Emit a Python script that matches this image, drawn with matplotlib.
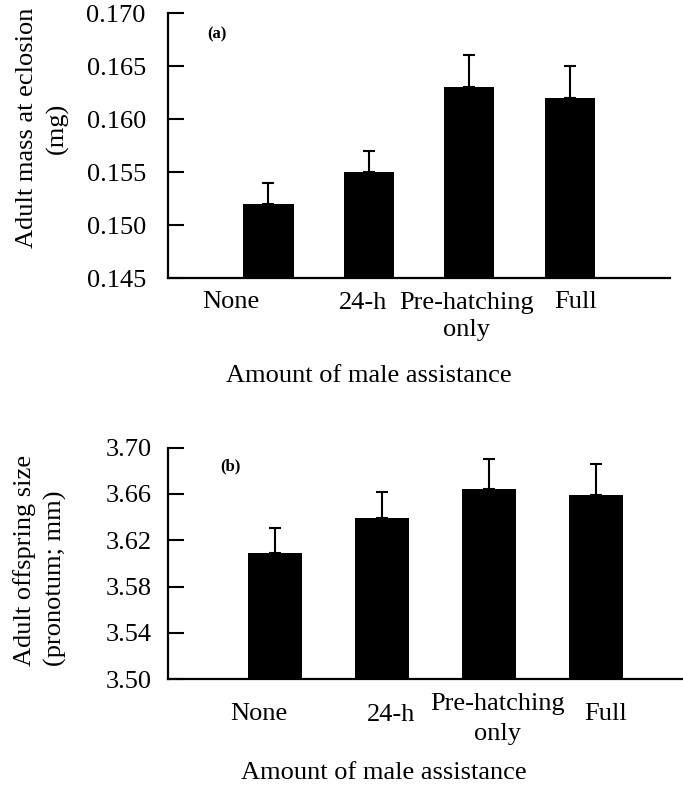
import numpy as np
import matplotlib.pyplot as plt

categories = ["None", "24-h", "Pre-hatching\nonly", "Full"]

# panel (a): adult mass at eclosion (mg)
mass = [0.152, 0.155, 0.163, 0.162]
mass_err = [0.002, 0.002, 0.003, 0.003]

# panel (b): adult offspring size (pronotum; mm)
size = [3.609, 3.639, 3.664, 3.659]
size_err = [0.022, 0.023, 0.026, 0.027]

plt.rcParams['font.family'] = ['Liberation Serif', 'DejaVu Serif']
plt.rcParams['font.size'] = 19

fig = plt.figure(figsize=(6.83, 7.88), dpi=100)
ax1 = fig.add_axes([0.246, 0.6472, 0.735, 0.3363])
ax2 = fig.add_axes([0.246, 0.1383, 0.760, 0.2935])

x = np.arange(len(categories))


def style(ax, pad):
    for s in ["top", "right"]:
        ax.spines[s].set_visible(False)
    ax.spines["left"].set_linewidth(1.6)
    ax.spines["bottom"].set_linewidth(1.6)
    ax.tick_params(axis="y", direction="in", length=11.5, width=1.5, pad=pad,
                   labelsize=19)
    ax.set_xticks([])


# top panel
ax1.bar(x, mass, width=0.5, color="black", zorder=2)
ax1.errorbar(x, mass, yerr=[np.zeros(4), mass_err], fmt="none", ecolor="black",
             elinewidth=1.5, capsize=4.5, capthick=1.5, zorder=1)
ax1.set_xlim(-1.0, 4.0)
ax1.set_ylim(0.145, 0.170)
ax1.set_yticks(np.arange(0.145, 0.1701, 0.005))
ax1.set_yticklabels(["%.3f" % v for v in np.arange(0.145, 0.1701, 0.005)])
style(ax1, 16)
ax1.text(0.098, 0.921, "(a)", transform=ax1.transAxes, fontsize=12,
         fontweight="bold", ha="center", va="center")

shift_a = [-0.37, -0.06, -0.03, 0.06]
voff_a = [-9, -10, -10, -9]
for i, lbl in enumerate(categories):
    ax1.annotate(lbl, xy=(x[i] + shift_a[i], 0), xycoords=("data", "axes fraction"),
                 xytext=(0, voff_a[i]), textcoords="offset points", ha="center", va="top",
                 linespacing=1.3, fontsize=19)
ax1.annotate("Amount of male assistance", xy=(1.0, 0), xycoords=("data", "axes fraction"),
             xytext=(0, -62.5), textcoords="offset points", ha="center", va="top",
             fontsize=19)

# bottom panel
ax2.bar(x, size, width=0.5, color="black", zorder=2)
ax2.errorbar(x, size, yerr=[np.zeros(4), size_err], fmt="none", ecolor="black",
             elinewidth=1.5, capsize=4.5, capthick=1.5, zorder=1)
ax2.set_xlim(-1.0, 3.85)
ax2.set_ylim(3.50, 3.70)
ticks_b = [3.50, 3.54, 3.58, 3.62, 3.66, 3.70]
ax2.set_yticks(ticks_b)
ax2.set_yticklabels(["%.2f" % v for v in ticks_b])
style(ax2, 12)
ax2.text(0.12, 0.921, "(b)", transform=ax2.transAxes, fontsize=12,
         fontweight="bold", ha="center", va="center")

shift_b = [-0.15, 0.08, 0.08, 0.09]
voff_b = [-17, -18, -10, -17]
for i, lbl in enumerate(categories):
    ax2.annotate(lbl, xy=(x[i] + shift_b[i], 0), xycoords=("data", "axes fraction"),
                 xytext=(0, voff_b[i]), textcoords="offset points", ha="center", va="top",
                 linespacing=1.45, fontsize=19)
ax2.annotate("Amount of male assistance", xy=(1.02, 0), xycoords=("data", "axes fraction"),
             xytext=(0, -60), textcoords="offset points", ha="center", va="top",
             fontsize=19)

fig.text(0.062, 0.8376, "Adult mass at eclosion\n(mg)", rotation=90, ha="center",
         va="center", multialignment="center", fontsize=19, linespacing=1.45)
fig.text(0.0586, 0.289, "Adult offspring size\n(pronotum; mm)", rotation=90, ha="center",
         va="center", multialignment="left", fontsize=19, linespacing=1.45)

fig.savefig("out.png", dpi=100)
